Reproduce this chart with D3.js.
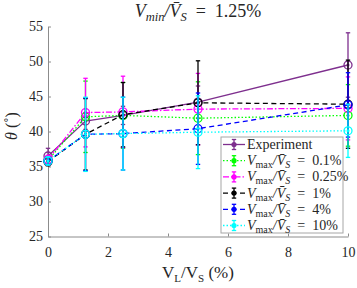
<!DOCTYPE html>
<meta charset="utf-8">
<html>
<head><title>theta vs VL/VS</title>
<script src="https://cdn.jsdelivr.net/npm/d3@7"></script>
<style>
    body { margin: 0; background: #fff; }
    text { font-family: "Liberation Serif", "Times New Roman", serif; fill: #262626; }
    .axis path, .axis line { stroke: #8c8c8c; }
    .axis text { font-size: 14px; fill: #262626; font-family: "Liberation Serif", "Times New Roman", serif; }
</style>
</head>
<body>
<script>
var W = 357, H = 288;
var margin = {left: 48, right: 9, top: 26.5, bottom: 51.5};

// x positions (V_L/V_S in %)
var xVals = [0, 1.25, 2.5, 5, 10];
var xTicks = [0, 2, 4, 6, 8, 10];
var yTicks = [25, 30, 35, 40, 45, 50, 55];

// series: theta means and error (half-width)
var expY   = [36.5, 41.5, 42.3, 44.2, 49.5];
var expE   = [1.1, 1.2, 1.3, 2.3, 4.6];
var v01Y   = [35.9, 42.1, 42.3, 41.9, 42.3];
var v01E   = [0.6, 5.1, 4.7, 5.2, 4.4];
var v025Y  = [36.0, 42.7, 42.8, 43.2, 43.3];
var v025E  = [0.6, 4.9, 5.1, 5.1, 4.5];
var v1Y    = [35.7, 39.6, 42.4, 44.1, 43.9];
var v1E    = [0.6, 5.1, 4.6, 6.0, 6.3];
var v4Y    = [35.8, 39.6, 39.7, 40.4, 43.8];
var v4E    = [0.6, 5.2, 5.2, 5.1, 4.6];
var v10Y   = [35.8, 39.6, 39.7, 39.9, 40.1];
var v10E   = [0.6, 5.3, 5.2, 5.2, 3.8];

var labels = ["Experiment", "0.1%", "0.25%", "1%", "4%", "10%"];
var colors = ["#7e2f8e", "#00ff00", "#ff00ff", "#000000", "#0000ff", "#00ffff"];
var dashes = [null, "1.5,2", "6,2,1.5,2", "5,3.5", "5,3.5", "1.5,2"];

var series = [expY, v01Y, v025Y, v1Y, v4Y, v10Y].map(function(ys, i) {
    var es = [expE, v01E, v025E, v1E, v4E, v10E][i];
    return {
        label: labels[i], color: colors[i], dash: dashes[i],
        pts: ys.map(function(y, j) { return {x: xVals[j], y: y, e: es[j]}; })
    };
});

var svg = d3.select("body").append("svg")
    .attr("width", W).attr("height", H);

var x = d3.scaleLinear().domain([0, 10]).range([margin.left, W - margin.right]);
var y = d3.scaleLinear().domain([25, 55]).range([H - margin.bottom, margin.top]);

// axes (left and bottom only, ticks inward)
svg.append("g").attr("class", "axis")
    .attr("transform", "translate(0," + (H - margin.bottom) + ")")
    .call(d3.axisBottom(x).tickValues(xTicks).tickSizeInner(-3).tickSizeOuter(0).tickPadding(8))
    .selectAll("text").attr("dy", "0.9em");
svg.append("g").attr("class", "axis")
    .attr("transform", "translate(" + margin.left + ",0)")
    .call(d3.axisLeft(y).tickValues(yTicks).tickSizeInner(-3).tickSizeOuter(0).tickPadding(5));

var line = d3.line().x(function(d) { return x(d.x); }).y(function(d) { return y(d.y); });

var capW = 2.2;
series.forEach(function(s) {
    var g = svg.append("g");
    g.append("path").datum(s.pts)
        .attr("d", line).attr("fill", "none")
        .attr("stroke", s.color).attr("stroke-width", 1.3)
        .attr("stroke-dasharray", s.dash);
    var eb = g.selectAll(".eb").data(s.pts).enter().append("g");
    eb.append("line")
        .attr("x1", function(d) { return x(d.x); }).attr("x2", function(d) { return x(d.x); })
        .attr("y1", function(d) { return y(d.y - d.e); }).attr("y2", function(d) { return y(d.y + d.e); })
        .attr("stroke", s.color).attr("stroke-width", 1.3);
    [-1, 1].forEach(function(sgn) {
        eb.append("line")
            .attr("x1", function(d) { return x(d.x) - capW; }).attr("x2", function(d) { return x(d.x) + capW; })
            .attr("y1", function(d) { return y(d.y + sgn * d.e); }).attr("y2", function(d) { return y(d.y + sgn * d.e); })
            .attr("stroke", s.color).attr("stroke-width", 1.3);
    });
    g.selectAll(".dot").data(s.pts).enter().append("circle")
        .attr("cx", function(d) { return x(d.x); }).attr("cy", function(d) { return y(d.y); })
        .attr("r", 1.5).attr("fill", s.color);
    g.selectAll(".mk").data(s.pts).enter().append("circle")
        .attr("cx", function(d) { return x(d.x); }).attr("cy", function(d) { return y(d.y); })
        .attr("r", 4).attr("fill", "none").attr("stroke", s.color).attr("stroke-width", 1.3);
});

// math-like label: V_sub / V̄_S = value
function ratioLabel(t, sub, subItalic, value, subSize, shift) {
    t.append("tspan").attr("font-style", "italic").text("V");
    t.append("tspan").attr("font-style", subItalic ? "italic" : "normal")
        .attr("dy", shift).style("font-size", subSize + "px").text(sub);
    t.append("tspan").attr("dy", -shift).attr("font-style", "italic").text("/V\u0304");
    t.append("tspan").attr("font-style", "italic").attr("dy", shift).style("font-size", subSize + "px").text("S");
    t.append("tspan").attr("dy", -shift).text("\u2002=\u2002" + value);
}

// title
var title = svg.append("text").attr("x", x(5)).attr("y", 17)
    .attr("text-anchor", "middle").style("font-size", "18px");
ratioLabel(title, "min", true, "1.25%", 12.5, 3.5);

// x label
var xl = svg.append("text").attr("x", x(5)).attr("y", 278)
    .attr("text-anchor", "middle").style("font-size", "17px");
xl.append("tspan").text("V");
xl.append("tspan").attr("dy", 4).style("font-size", "11px").text("L");
xl.append("tspan").attr("dy", -4).text("/V");
xl.append("tspan").attr("dy", 4).style("font-size", "11px").text("S");
xl.append("tspan").attr("dy", -4).text(" (%)");

// y label
var yl = svg.append("text")
    .attr("transform", "translate(17,126) rotate(-90)")
    .attr("text-anchor", "middle").style("font-size", "16px");
yl.append("tspan").attr("font-style", "italic").text("\u03b8");
yl.append("tspan").text(" (\u02da)");

// legend
var lg = svg.append("g");
var lx = 221, ly = 137, lw = 122, lh = 96, rowH = 16.2;
lg.append("rect").attr("x", lx).attr("y", ly).attr("width", lw).attr("height", lh)
    .attr("fill", "#fff").attr("stroke", "#a6a6a6").attr("stroke-width", 1);
series.forEach(function(s, i) {
    var cy = ly + 7.5 + i * rowH, cx = lx + 13;
    lg.append("line").attr("x1", lx + 2).attr("x2", lx + 24).attr("y1", cy).attr("y2", cy)
        .attr("stroke", s.color).attr("stroke-width", 1.3).attr("stroke-dasharray", s.dash);
    lg.append("line").attr("x1", cx).attr("x2", cx).attr("y1", cy - 5).attr("y2", cy + 5)
        .attr("stroke", s.color).attr("stroke-width", 1.3);
    [-5, 5].forEach(function(o) {
        lg.append("line").attr("x1", cx - capW).attr("x2", cx + capW).attr("y1", cy + o).attr("y2", cy + o)
            .attr("stroke", s.color).attr("stroke-width", 1.3);
    });
    lg.append("circle").attr("cx", cx).attr("cy", cy).attr("r", 2.6).attr("fill", s.color);
    var t = lg.append("text").attr("x", lx + 26).attr("y", cy + 4.5).style("font-size", "14px");
    if (i === 0) {
        t.text(s.label);
    } else {
        ratioLabel(t, "max", false, s.label, 10, 3);
    }
});
</script>
</body>
</html>
